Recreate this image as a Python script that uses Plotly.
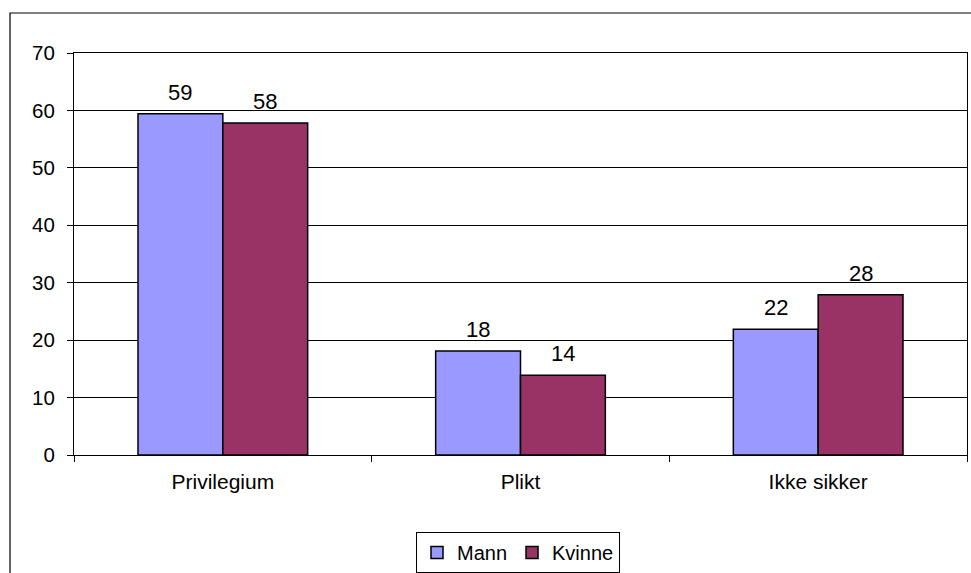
import plotly.graph_objects as go

categories = ["Privilegium", "Plikt", "Ikke sikker"]
mann = [59.4, 18.1, 21.9]
kvinne = [57.8, 13.9, 27.9]
mann_labels = ["59", "18", "22"]
kvinne_labels = ["58", "14", "28"]
y_ticks = [0, 10, 20, 30, 40, 50, 60, 70]

W, H = 971, 573
L, R, T, B = 74, 4, 53, 118
pw, ph = W - L - R, H - T - B
bargap = 0.43
fam = "Liberation Sans, Arial, sans-serif"
font = dict(family=fam, size=20.5, color="black")
cat_font = dict(family=fam, size=21, color="black")
lab_font = dict(family=fam, size=22, color="black")

fig = go.Figure()
fig.add_trace(go.Bar(name="Mann", x=categories, y=mann,
                     marker=dict(color="#9999FF", line=dict(color="black", width=1.5))))
fig.add_trace(go.Bar(name="Kvinne", x=categories, y=kvinne,
                     marker=dict(color="#993366", line=dict(color="black", width=1.5))))

bw = (1 - bargap) / 2
for i in range(len(categories)):
    fig.add_annotation(x=i - bw / 2, y=mann[i], text=mann_labels[i], xref="x", yref="y",
                       showarrow=False, yanchor="bottom", yshift=7, font=lab_font)
    fig.add_annotation(x=i + bw / 2, y=kvinne[i], text=kvinne_labels[i], xref="x", yref="y",
                       showarrow=False, yanchor="bottom", yshift=7, font=lab_font)

# outer chart border
fig.add_shape(type="rect", xref="paper", yref="paper",
              x0=(10 - L) / pw, x1=(W + 10 - L) / pw,
              y0=(T + ph - (H + 10)) / ph, y1=(T + ph - 13) / ph,
              line=dict(color="black", width=1.2), fillcolor="rgba(0,0,0,0)", layer="below")

fig.update_layout(
    width=W, height=H,
    margin=dict(l=L, r=R, t=T, b=B, autoexpand=False),
    paper_bgcolor="white", plot_bgcolor="white",
    barmode="group", bargap=bargap, bargroupgap=0,
    font=font,
    showlegend=True,
    legend=dict(orientation="h", x=(518 - L) / pw, xanchor="center",
                y=(T + ph - 532) / ph, yanchor="top",
                bordercolor="black", borderwidth=1, bgcolor="white",
                font=dict(family=fam, size=20, color="black"),
                itemwidth=30, tracegroupgap=0),
)
fig.update_xaxes(type="category", showline=True, linecolor="black", linewidth=1.2,
                 mirror=True, ticks="outside", tickson="boundaries", ticklen=6,
                 tickcolor="black", showgrid=False, ticklabelstandoff=8, tickfont=cat_font)
fig.update_yaxes(range=[0, 70], tickvals=y_ticks, showline=True, linecolor="black",
                 linewidth=1.2, mirror=True, ticks="outside", ticklen=6, tickcolor="black",
                 showgrid=True, gridcolor="black", gridwidth=1, zeroline=False,
                 ticklabelstandoff=8, tickfont=font)

fig.write_html("out.html", config={"displayModeBar": False},
               post_script="document.body.style.margin='0';document.body.style.padding='0';")
